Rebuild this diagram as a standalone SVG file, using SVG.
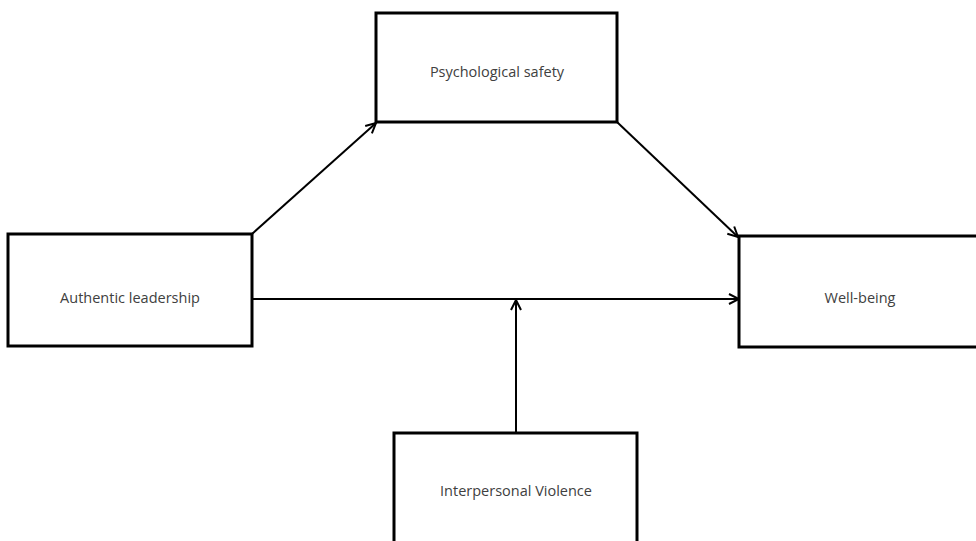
<svg xmlns="http://www.w3.org/2000/svg" width="976" height="541" viewBox="0 0 976 541">
<style>
.box{fill:#fff;stroke:#000;stroke-width:3}
.lbl{font-family:"Open Sans","Liberation Sans",sans-serif;font-size:14.5px;fill:#404040;text-anchor:middle;dominant-baseline:central}
.con{stroke:#000;stroke-width:2;fill:none}
</style>
<defs>
<marker id="arr" viewBox="0 0 12 12" refX="11" refY="6" markerWidth="12" markerHeight="12" markerUnits="userSpaceOnUse" orient="auto">
<path d="M1,1 L11,6 L1,11" fill="none" stroke="#000" stroke-width="2"/>
</marker>
</defs>
<rect width="976" height="541" fill="#fff"/>
<g id="connectors">
<line class="con" x1="252" y1="234" x2="376" y2="123" marker-end="url(#arr)"/>
<line class="con" x1="617" y1="122" x2="738" y2="237" marker-end="url(#arr)"/>
<line class="con" x1="252" y1="299" x2="739" y2="299" marker-end="url(#arr)"/>
<line class="con" x1="516" y1="433" x2="516" y2="300" marker-end="url(#arr)"/>
</g>
<g id="psych">
<rect class="box" x="376" y="13" width="241" height="109"/>
<text class="lbl" x="497" y="71">Psychological safety</text>
</g>
<g id="authentic">
<rect class="box" x="8" y="234" width="244" height="112"/>
<text class="lbl" x="130" y="297">Authentic leadership</text>
</g>
<g id="wellbeing">
<rect class="box" x="739" y="236" width="245" height="111"/>
<text class="lbl" x="860" y="297">Well-being</text>
</g>
<g id="violence">
<rect class="box" x="394" y="433" width="243" height="120"/>
<text class="lbl" x="516" y="490">Interpersonal Violence</text>
</g>
</svg>
